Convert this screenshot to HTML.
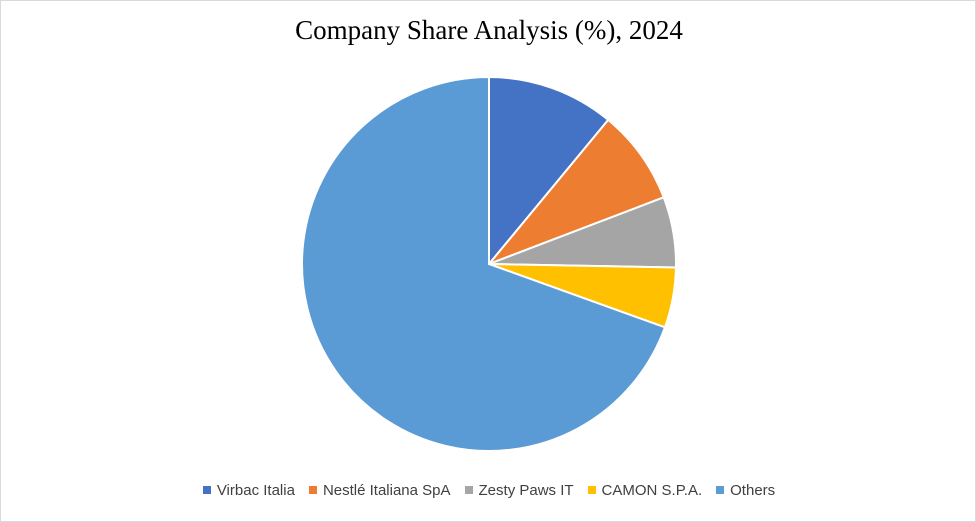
<!DOCTYPE html>
<html><head><meta charset="utf-8"><style>
body{margin:0;background:#fff;}
#wrap{position:relative;width:974px;height:520px;border:1px solid #d9d9d9;background:#fff;overflow:hidden}
#title{position:absolute;top:14px;left:0;width:976px;text-align:center;font-family:"Liberation Serif",serif;font-size:27px;color:#000}
#legend{position:absolute;top:481px;left:0;width:976px;text-align:center;font-family:"Liberation Sans",sans-serif;font-size:15px;color:#404040}
.li{display:inline-block;margin:0 7px}
.sw{display:inline-block;width:8px;height:8px;margin-right:6px;vertical-align:1px}
</style></head><body>
<div id="wrap">
<div id="title">Company Share Analysis (%), 2024</div>
<svg id="pie" width="976" height="470" style="position:absolute;left:0;top:0"></svg>
<div id="legend"></div>
</div>
<script>
const categories=["Virbac Italia","Nestlé Italiana SpA","Zesty Paws IT","CAMON S.P.A.","Others"];
const values=[11,8.2,6.1,5.2,69.5];
const colors=["#4472c4","#ed7d31","#a5a5a5","#ffc000","#5b9bd5"];
const cx=488,cy=263,r=187;
const svg=document.getElementById('pie');
const total=values.reduce((a,b)=>a+b,0);
let acc=0;
function pt(f){const a=f*2*Math.PI;return [cx+r*Math.sin(a),cy-r*Math.cos(a)];}
values.forEach((v,i)=>{
  const s=acc/total,e=(acc+v)/total;acc+=v;
  const [x1,y1]=pt(s),[x2,y2]=pt(e);
  const p=document.createElementNS('http://www.w3.org/2000/svg','path');
  p.setAttribute('d',`M${cx},${cy}L${x1},${y1}A${r},${r} 0 ${e-s>0.5?1:0} 1 ${x2},${y2}Z`);
  p.setAttribute('fill',colors[i]);p.setAttribute('stroke','#fff');p.setAttribute('stroke-width','2');
  
  
  svg.appendChild(p);
});
const lg=document.getElementById('legend');
categories.forEach((c,i)=>{
  const d=document.createElement('span');d.className='li';
  
  
  d.innerHTML='<span class="sw" style="background:'+colors[i]+'"></span>'+c;
  lg.appendChild(d);
});
</script>
</body></html>
